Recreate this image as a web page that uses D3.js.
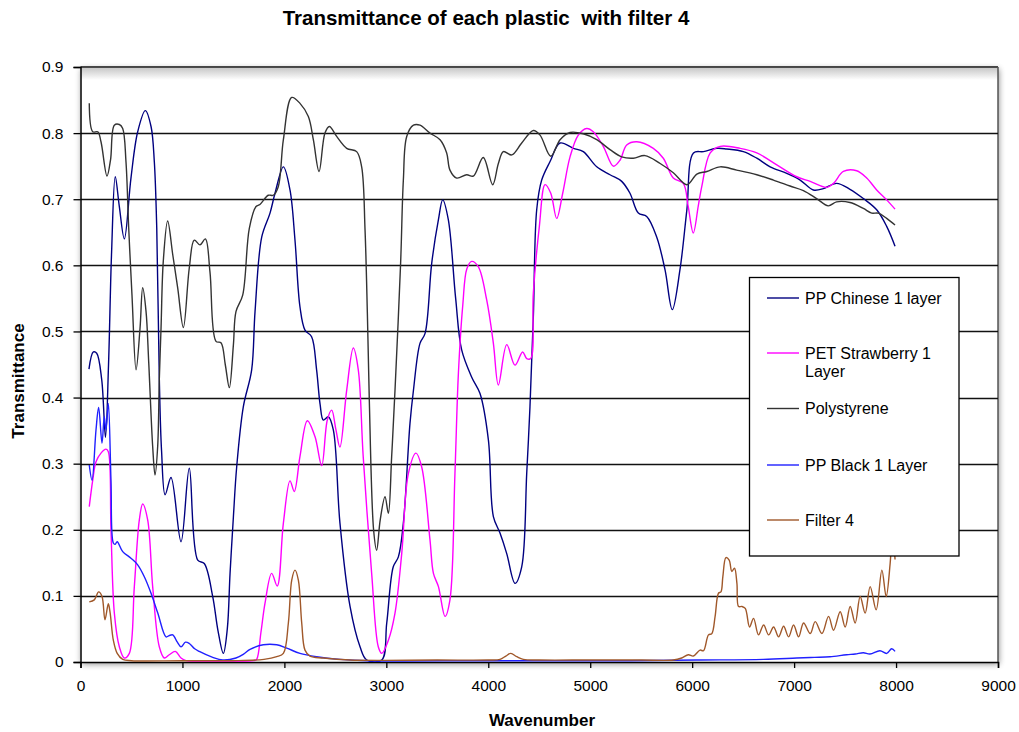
<!DOCTYPE html>
<html>
<head>
<meta charset="utf-8">
<script src="https://cdn.jsdelivr.net/npm/d3@7"></script>
<style>
  body { margin: 0; background: #fff; }
  svg { display: block; }
  text { font-family: "Liberation Sans", Arial, sans-serif; fill: #000; }
</style>
</head>
<body>
<svg id="chart" width="1019" height="732"></svg>
<script>
// ---- data ----------------------------------------------------------
const chartTitle = "Transmittance of each plastic  with filter 4";
const xTitle = "Wavenumber";
const yTitle = "Transmittance";

const xTickValues = [0, 1000, 2000, 3000, 4000, 5000, 6000, 7000, 8000, 9000];
const xTickLabels = ["0", "1000", "2000", "3000", "4000", "5000", "6000", "7000", "8000", "9000"];
const yTickValues = [0, 0.1, 0.2, 0.3, 0.4, 0.5, 0.6, 0.7, 0.8, 0.9];
const yTickLabels = ["0", "0.1", "0.2", "0.3", "0.4", "0.5", "0.6", "0.7", "0.8", "0.9"];

const seriesNames = ["PP Chinese 1 layer", "PET Strawberry 1 Layer", "Polystyrene", "PP Black 1 Layer", "Filter 4"];
const seriesColors = ["#000080", "#ff00ff", "#333333", "#2020ff", "#a0582a"];

// [wavenumber, transmittance]
const ppChinese = [
  [83,0.443],[126,0.469],[159,0.467],[208,0.427],[245,0.34],[275,0.45],[305,0.62],[341,0.734],[380,0.69],
  [430,0.640],[495,0.732],[561,0.802],[636,0.834],[692,0.810],[724,0.757],[748,0.656],[773,0.429],[795,0.32],
  [830,0.253],[888,0.279],[986,0.182],[1067,0.293],[1150,0.154],[1214,0.149],[1297,0.099],[1348,0.048],
  [1401,0.013],[1440,0.05],[1467,0.134],[1500,0.22],[1532,0.295],[1597,0.386],[1679,0.442],[1712,0.53],
  [1778,0.643],[1859,0.679],[1908,0.709],[1990,0.749],[2055,0.714],[2104,0.638],[2153,0.537],[2202,0.502],
  [2267,0.492],[2316,0.442],[2350,0.39],[2382,0.366],[2431,0.371],[2480,0.351],[2545,0.210],[2644,0.084],
  [2742,0.023],[2808,0.003],[2955,0.003],[3004,0.059],[3068,0.144],[3118,0.159],[3167,0.210],[3232,0.361],
  [3266,0.411],[3330,0.482],[3380,0.497],[3445,0.603],[3511,0.669],[3553,0.699],[3608,0.669],[3680,0.55],
  [3739,0.472],[3840,0.43],[3919,0.406],[4001,0.336],[4050,0.220],[4115,0.195],[4181,0.164],[4262,0.119],
  [4328,0.144],[4377,0.285],[4409,0.386],[4442,0.522],[4475,0.684],[4524,0.729],[4606,0.757],[4704,0.785],
  [4835,0.777],[4932,0.772],[5064,0.749],[5194,0.737],[5309,0.727],[5390,0.709],[5472,0.679],[5554,0.674],
  [5652,0.643],[5734,0.593],[5805,0.533],[5880,0.593],[5948,0.684],[6013,0.770],[6111,0.772],[6242,0.777],
  [6339,0.776],[6502,0.772],[6634,0.762],[6765,0.749],[6928,0.739],[7059,0.729],[7189,0.714],[7287,0.716],
  [7417,0.724],[7548,0.715],[7679,0.701],[7810,0.684],[7908,0.659],[7990,0.629]
];

const petStrawberry = [
  [86,0.235],[120,0.275],[152,0.303],[201,0.316],[250,0.322],[273,0.318],[299,0.200],[332,0.074],[381,0.023],
  [430,0.006],[479,0.013],[528,0.114],[577,0.215],[610,0.239],[659,0.215],[708,0.114],[773,0.023],[822,0.006],
  [871,0.011],[930,0.016],[986,0.006],[1035,0.002],[1200,0.001],[1500,0.001],[1700,0.002],[1728,0.004],
  [1770,0.045],[1810,0.089],[1875,0.134],[1930,0.115],[1990,0.210],[2055,0.274],[2097,0.258],[2153,0.311],
  [2225,0.365],[2300,0.341],[2366,0.297],[2421,0.366],[2464,0.381],[2506,0.351],[2545,0.325],[2611,0.411],
  [2676,0.475],[2725,0.442],[2773,0.311],[2856,0.134],[2921,0.023],[2955,0.013],[3020,0.033],[3085,0.074],
  [3151,0.164],[3216,0.285],[3291,0.316],[3347,0.295],[3428,0.185],[3462,0.134],[3511,0.114],[3576,0.069],
  [3624,0.094],[3673,0.285],[3707,0.437],[3750,0.54],[3790,0.595],[3837,0.606],[3902,0.598],[3984,0.548],
  [4050,0.482],[4099,0.419],[4181,0.480],[4262,0.449],[4337,0.469],[4377,0.459],[4416,0.459],[4442,0.558],
  [4501,0.659],[4557,0.722],[4613,0.709],[4671,0.671],[4730,0.709],[4802,0.764],[4883,0.797],[4965,0.807],
  [5030,0.802],[5128,0.780],[5227,0.750],[5292,0.759],[5358,0.782],[5456,0.787],[5619,0.777],[5717,0.762],
  [5815,0.732],[5913,0.724],[5960,0.69],[6011,0.649],[6060,0.69],[6094,0.719],[6177,0.770],[6275,0.780],
  [6471,0.777],[6634,0.770],[6830,0.752],[7026,0.734],[7158,0.727],[7321,0.718],[7387,0.724],[7483,0.742],
  [7614,0.743],[7712,0.732],[7810,0.714],[7908,0.699],[7990,0.685]
];

const polystyrene = [
  [86,0.845],[120,0.802],[169,0.802],[201,0.787],[260,0.735],[295,0.76],[332,0.812],[381,0.813],[414,0.807],
  [446,0.757],[473,0.656],[505,0.555],[545,0.442],[584,0.505],[610,0.566],[643,0.530],[669,0.454],[708,0.326],
  [731,0.283],[757,0.326],[773,0.427],[790,0.505],[812,0.606],[855,0.667],[905,0.616],[954,0.565],[1009,0.506],
  [1067,0.596],[1116,0.638],[1172,0.631],[1225,0.640],[1270,0.59],[1329,0.485],[1378,0.483],[1420,0.45],
  [1460,0.415],[1500,0.48],[1525,0.53],[1591,0.555],[1656,0.656],[1722,0.689],[1760,0.692],[1842,0.706],
  [1891,0.706],[1940,0.719],[1990,0.790],[2072,0.854],[2153,0.845],[2235,0.825],[2284,0.790],[2340,0.742],
  [2398,0.800],[2441,0.810],[2513,0.795],[2611,0.777],[2709,0.772],[2758,0.749],[2791,0.654],[2814,0.527],
  [2833,0.396],[2875,0.20],[2905,0.169],[2940,0.215],[2987,0.250],[3020,0.225],[3052,0.31],[3085,0.411],
  [3140,0.603],[3167,0.729],[3200,0.795],[3266,0.812],[3330,0.812],[3428,0.800],[3527,0.790],[3592,0.770],
  [3624,0.744],[3690,0.732],[3788,0.737],[3853,0.735],[3951,0.763],[4043,0.722],[4099,0.754],[4148,0.772],
  [4230,0.767],[4328,0.785],[4442,0.804],[4508,0.797],[4613,0.765],[4704,0.790],[4802,0.801],[4932,0.799],
  [5064,0.790],[5194,0.775],[5309,0.764],[5423,0.762],[5537,0.766],[5686,0.754],[5815,0.740],[5948,0.722],
  [6046,0.738],[6144,0.742],[6275,0.749],[6437,0.744],[6634,0.737],[6797,0.729],[6960,0.720],[7091,0.713],
  [7221,0.701],[7335,0.690],[7417,0.696],[7548,0.695],[7679,0.686],[7761,0.679],[7826,0.679],[7908,0.671],
  [7990,0.661]
];

const ppBlack = [
  [86,0.298],[113,0.275],[152,0.351],[178,0.385],[211,0.331],[233,0.371],[250,0.351],[273,0.391],[299,0.275],
  [322,0.180],[340,0.178],[360,0.182],[414,0.167],[495,0.157],[561,0.147],[626,0.129],[692,0.104],[758,0.074],
  [839,0.038],[870,0.040],[905,0.041],[950,0.030],[986,0.023],[1030,0.030],[1067,0.028],[1120,0.020],
  [1165,0.016],[1297,0.007],[1395,0.003],[1525,0.006],[1600,0.012],[1663,0.019],[1793,0.026],[1925,0.026],
  [2023,0.021],[2153,0.013],[2316,0.008],[2545,0.004],[2808,0.002],[4000,0.002],[5392,0.002],[6044,0.003],
  [6698,0.004],[7025,0.006],[7200,0.007],[7352,0.008],[7515,0.011],[7600,0.012],[7679,0.014],[7744,0.012],
  [7842,0.017],[7908,0.013],[7957,0.020],[7990,0.016]
];

const filter4 = [
  [86,0.091],[135,0.094],[178,0.106],[211,0.099],[240,0.064],[273,0.088],[291,0.074],[322,0.033],[360,0.013],
  [414,0.004],[500,0.002],[1000,0.002],[1500,0.002],[1800,0.004],[1925,0.008],[1990,0.013],[2039,0.059],
  [2072,0.124],[2104,0.139],[2137,0.124],[2170,0.059],[2202,0.018],[2251,0.009],[2382,0.006],[2644,0.003],
  [3500,0.003],[4000,0.003],[4115,0.004],[4172,0.009],[4221,0.013],[4280,0.008],[4344,0.004],[4500,0.003],
  [5000,0.003],[5500,0.003],[5815,0.003],[5897,0.006],[5962,0.011],[6011,0.009],[6077,0.018],[6111,0.017],
  [6160,0.041],[6193,0.043],[6225,0.069],[6258,0.104],[6282,0.106],[6301,0.129],[6331,0.158],[6363,0.154],
  [6389,0.137],[6415,0.142],[6439,0.119],[6455,0.084],[6488,0.084],[6521,0.081],[6563,0.053],[6602,0.066],
  [6651,0.041],[6701,0.056],[6750,0.041],[6799,0.053],[6848,0.038],[6897,0.054],[6946,0.038],[6995,0.056],
  [7044,0.038],[7093,0.059],[7158,0.043],[7207,0.061],[7273,0.043],[7338,0.069],[7387,0.048],[7452,0.076],
  [7501,0.053],[7550,0.084],[7599,0.059],[7648,0.099],[7697,0.074],[7746,0.114],[7805,0.079],[7861,0.139],
  [7903,0.099],[7942,0.149],[7965,0.200],[7990,0.155]
];

const seriesData = [ppChinese, petStrawberry, polystyrene, ppBlack, filter4];

// ---- layout --------------------------------------------------------
const svg = d3.select("#chart");
const plot = { left: 80.5, top: 67, right: 998, bottom: 662 };

const x = d3.scaleLinear().domain([0, 9000]).range([plot.left, plot.right]);
const y = d3.scaleLinear().domain([0, 0.9]).range([plot.bottom, plot.top]);

const defs = svg.append("defs");
const shadow = defs.append("filter").attr("id", "plotShadow")
  .attr("x", "-5%").attr("y", "-5%").attr("width", "110%").attr("height", "110%");
shadow.append("feGaussianBlur").attr("in", "SourceAlpha").attr("stdDeviation", 3).attr("result", "blur");
shadow.append("feOffset").attr("in", "blur").attr("dx", 1).attr("dy", 2).attr("result", "off");
shadow.append("feComponentTransfer").attr("in", "off").attr("result", "soft")
  .append("feFuncA").attr("type", "linear").attr("slope", 0.45);
const merge = shadow.append("feMerge");
merge.append("feMergeNode").attr("in", "soft");
merge.append("feMergeNode").attr("in", "SourceGraphic");

const topGrad = defs.append("linearGradient").attr("id", "topShade")
  .attr("x1", 0).attr("y1", 0).attr("x2", 0).attr("y2", 1);
topGrad.append("stop").attr("offset", "0%").attr("stop-color", "#c8c8c8");
topGrad.append("stop").attr("offset", "100%").attr("stop-color", "#ffffff");

defs.append("clipPath").attr("id", "plotClip").append("rect")
  .attr("x", plot.left).attr("y", plot.top - 2)
  .attr("width", plot.right - plot.left).attr("height", plot.bottom - plot.top + 2);

// plot area with its soft frame
svg.append("rect")
  .attr("x", plot.left).attr("y", plot.top)
  .attr("width", plot.right - plot.left).attr("height", plot.bottom - plot.top)
  .attr("fill", "#fff").attr("filter", "url(#plotShadow)");
svg.append("rect")
  .attr("x", plot.left).attr("y", plot.top + 1)
  .attr("width", plot.right - plot.left).attr("height", 12)
  .attr("fill", "url(#topShade)");
svg.append("line")
  .attr("x1", plot.left).attr("x2", plot.right).attr("y1", plot.top).attr("y2", plot.top)
  .attr("stroke", "#111").attr("stroke-width", 1.5);
svg.append("line")
  .attr("x1", plot.right).attr("x2", plot.right).attr("y1", plot.top).attr("y2", plot.bottom)
  .attr("stroke", "#555").attr("stroke-width", 1.5);

// horizontal gridlines
svg.append("g").selectAll("line").data(yTickValues.filter(d => d > 0 && d < 0.9)).join("line")
  .attr("x1", plot.left).attr("x2", plot.right)
  .attr("y1", d => Math.round(y(d)) + 0.5).attr("y2", d => Math.round(y(d)) + 0.5)
  .attr("stroke", "#111").attr("stroke-width", 1.3);

// axes
const yAxis = d3.axisLeft(y).tickValues(yTickValues)
  .tickFormat((d, i) => yTickLabels[i]).tickSize(7).tickPadding(10);
const gy = svg.append("g").attr("transform", `translate(${plot.left},0)`).call(yAxis);
gy.select(".domain").attr("stroke", "#000").attr("stroke-width", 1.5);
gy.selectAll(".tick line").attr("stroke", "#000").attr("stroke-width", 1.3);
gy.selectAll(".tick text").style("font-size", "15.5px").attr("fill", "#000");

const xAxis = d3.axisBottom(x).tickValues(xTickValues)
  .tickFormat((d, i) => xTickLabels[i]).tickSize(6).tickPadding(12);
const gx = svg.append("g").attr("transform", `translate(0,${plot.bottom})`).call(xAxis);
gx.select(".domain").attr("stroke", "#000").attr("stroke-width", 1.5);
gx.selectAll(".tick line").attr("stroke", "#000").attr("stroke-width", 1.3);
gx.selectAll(".tick text").style("font-size", "15.5px").attr("fill", "#000");

// series lines
const line = d3.line()
  .x(d => x(d[0])).y(d => y(d[1]))
  .curve(d3.curveCatmullRom.alpha(0.5));

svg.append("g").attr("clip-path", "url(#plotClip)")
  .selectAll("path").data(seriesData).join("path")
  .attr("d", line)
  .attr("fill", "none")
  .attr("stroke", (d, i) => seriesColors[i])
  .attr("stroke-width", 1.4)
  .attr("stroke-linejoin", "round");

// titles
svg.append("text").attr("x", 486).attr("y", 25).attr("text-anchor", "middle")
  .attr("xml:space", "preserve")
  .style("font-size", "20.5px").style("font-weight", "bold").text(chartTitle);
svg.append("text").attr("x", 542).attr("y", 726).attr("text-anchor", "middle")
  .style("font-size", "17px").style("font-weight", "bold").text(xTitle);
svg.append("text").attr("transform", "translate(24,381) rotate(-90)").attr("text-anchor", "middle")
  .style("font-size", "17px").style("font-weight", "bold").text(yTitle);

// legend
const legend = { x: 749.5, y: 277.5, w: 209.5, h: 278.5 };
const legendRows = [
  { lines: ["PP Chinese 1 layer"], y: 298 },
  { lines: ["PET Strawberry 1", "Layer"], y: 353 },
  { lines: ["Polystyrene"], y: 408.5 },
  { lines: ["PP Black 1 Layer"], y: 465 },
  { lines: ["Filter 4"], y: 520 }
];
const lg = svg.append("g");
lg.append("rect").attr("x", legend.x).attr("y", legend.y)
  .attr("width", legend.w).attr("height", legend.h)
  .attr("fill", "#fff").attr("stroke", "#000").attr("stroke-width", 1.3);
legendRows.forEach((row, i) => {
  lg.append("line").attr("x1", 767).attr("x2", 799).attr("y1", row.y).attr("y2", row.y)
    .attr("stroke", seriesColors[i]).attr("stroke-width", 1.4);
  const t = lg.append("text").attr("x", 805).attr("y", row.y + 5.5).style("font-size", "16px");
  row.lines.forEach((s, k) => {
    t.append("tspan").attr("x", 805).attr("dy", k === 0 ? 0 : 18.5).text(s);
  });
});
</script>
</body>
</html>
